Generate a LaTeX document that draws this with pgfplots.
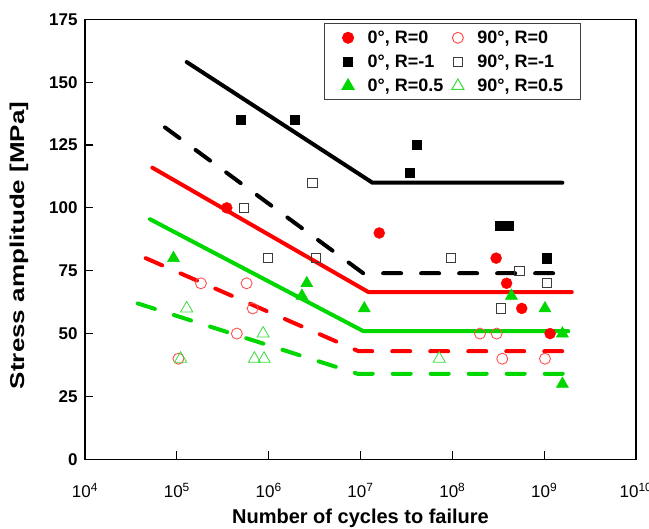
\documentclass[border=0pt]{standalone}
\usepackage{fontspec}
\setmainfont{Liberation Sans}
\usepackage{graphicx}
\usepackage{pgfplots}
\pgfplotsset{compat=1.18}
\definecolor{mgreen}{RGB}{0,215,0}
\definecolor{lgreen}{RGB}{60,220,60}
\definecolor{lred}{RGB}{255,80,80}
\definecolor{dgray}{RGB}{60,60,60}
\begin{document}
\begin{tikzpicture}
\begin{axis}[
  scale only axis, width=551pt, height=440pt,
  xmode=log, xmin=1e4, xmax=1e10, ymin=0, ymax=175,
  xtick={1e4,1e5,1e6,1e7,1e8,1e9,1e10},
  xticklabels={10\textsuperscript{4},10\textsuperscript{5},10\textsuperscript{6},10\textsuperscript{7},10\textsuperscript{8},10\textsuperscript{9},10\textsuperscript{10}},
  ytick={0,25,50,75,100,125,150,175},
  xminorticks=false,
  /pgf/number format/assume math mode=true,
  tick pos=left, tick align=inside, major tick length=8pt,
  tick style={line width=1.2pt, black},
  axis line style={line width=1.3pt, black},
  yticklabel style={font=\fontsize{17}{20}\selectfont\bfseries, xshift=-4pt},
  xticklabel style={font=\fontsize{17}{20}\selectfont, yshift=-20pt},
  xlabel={Number of cycles to failure},
  ylabel={\scalebox{1.3}[1]{Stress amplitude [MPa]}},
  label style={font=\fontsize{20}{24}\selectfont\bfseries},
  xlabel style={yshift=-5pt},
  ylabel style={yshift=14pt, xshift=-6pt},
  legend columns=2,
  legend style={at={(0.4338,0.991)}, anchor=north west, draw=black!75, line width=1pt,
    font=\fontsize{18}{21}\selectfont\bfseries, inner xsep=15pt, inner ysep=5pt,
    row sep=6pt, cells={anchor=west},
    /tikz/every odd column/.append style={column sep=9pt},
    /tikz/every even column/.append style={column sep=4pt}},
  legend image code/.code={\path[draw=none,fill=none] (0cm,-1pt) rectangle (0.6cm,1pt); \draw[#1, line width=1pt] plot coordinates {(0.3cm,0cm)};},
]
% 0 deg, R=0
\addplot[only marks, mark=*, mark size=5.5pt, color=red, fill=red] coordinates {
 (3.5e5,100) (1.6e7,90) (3.0e8,80) (3.9e8,70) (5.7e8,60) (1.16e9,50)};
\addlegendentry{0°, R=0}
% 90 deg, R=0
\addplot[only marks, mark=o, mark size=5.5pt, color=lred, line width=0.9pt] coordinates {
 (1.04e5,40) (4.5e5,50) (6.7e5,60) (1.83e5,70) (5.75e5,70) (2.0e8,50) (3.04e8,50) (3.5e8,40) (1.02e9,40)};
\addlegendentry{90°, R=0}
% 0 deg, R=-1
\addplot[only marks, mark=square*, mark size=4.6pt, color=black, fill=black] coordinates {
 (5.0e5,135) (1.94e6,135) (4.1e7,125) (3.46e7,114) (3.3e8,93) (4.1e8,93) (1.07e9,80)};
\addlegendentry{0°, R=-1}
% 90 deg, R=-1
\addplot[only marks, mark=square, mark size=4.6pt, color=dgray, line width=1pt] coordinates {
 (3.0e6,110) (5.4e5,100) (9.9e5,80) (3.3e6,80) (9.7e7,80) (5.4e8,75) (1.07e9,70) (3.4e8,60)};
\addlegendentry{90°, R=-1}
% 0 deg, R=0.5
\addplot[only marks, mark=triangle*, mark size=7pt, color=mgreen, fill=mgreen] coordinates {
 (9.2e4,80) (2.6e6,70) (2.3e6,65) (1.1e7,60) (4.4e8,65) (1.02e9,60) (1.58e9,50) (1.58e9,30)};
\addlegendentry{0°, R=0.5}
% 90 deg, R=0.5
\addplot[only marks, mark=triangle, mark size=7pt, color=lgreen, line width=0.8pt] coordinates {
 (1.1e5,40) (1.28e5,60) (8.7e5,50) (7.0e5,40) (8.9e5,40) (7.2e7,40)};
\addlegendentry{90°, R=0.5}
% fitted lines
\addplot[forget plot, black, line width=4pt, line cap=round] coordinates {(1.28e5,158) (1.35e7,110) (1.58e9,110)};
\addplot[forget plot, black, line width=4pt, line cap=round, dash pattern=on 18pt off 20pt] coordinates {(7.43e4,132) (1.07e7,74) (1.95e9,74)};
\addplot[forget plot, red, line width=4pt, line cap=round] coordinates {(5.41e4,116) (1.22e7,66.5) (2.0e9,66.5)};
\addplot[forget plot, mgreen, line width=4pt, line cap=round] coordinates {(5.1e4,95.5) (1.07e7,51) (1.83e9,51)};
\addplot[forget plot, red, line width=4pt, line cap=round, dash pattern=on 18pt off 20pt] coordinates {(4.58e4,80) (9.5e6,43) (1.86e9,43)};
\addplot[forget plot, mgreen, line width=4pt, line cap=round, dash pattern=on 18pt off 20pt] coordinates {(3.75e4,62) (9.3e6,34) (1.74e9,34)};
\end{axis}
\pgfresetboundingbox
\path ([xshift=-85pt,yshift=-69.5pt]current axis.south west) rectangle ([xshift=13pt,yshift=19.3pt]current axis.north east);
\end{tikzpicture}
\end{document}
